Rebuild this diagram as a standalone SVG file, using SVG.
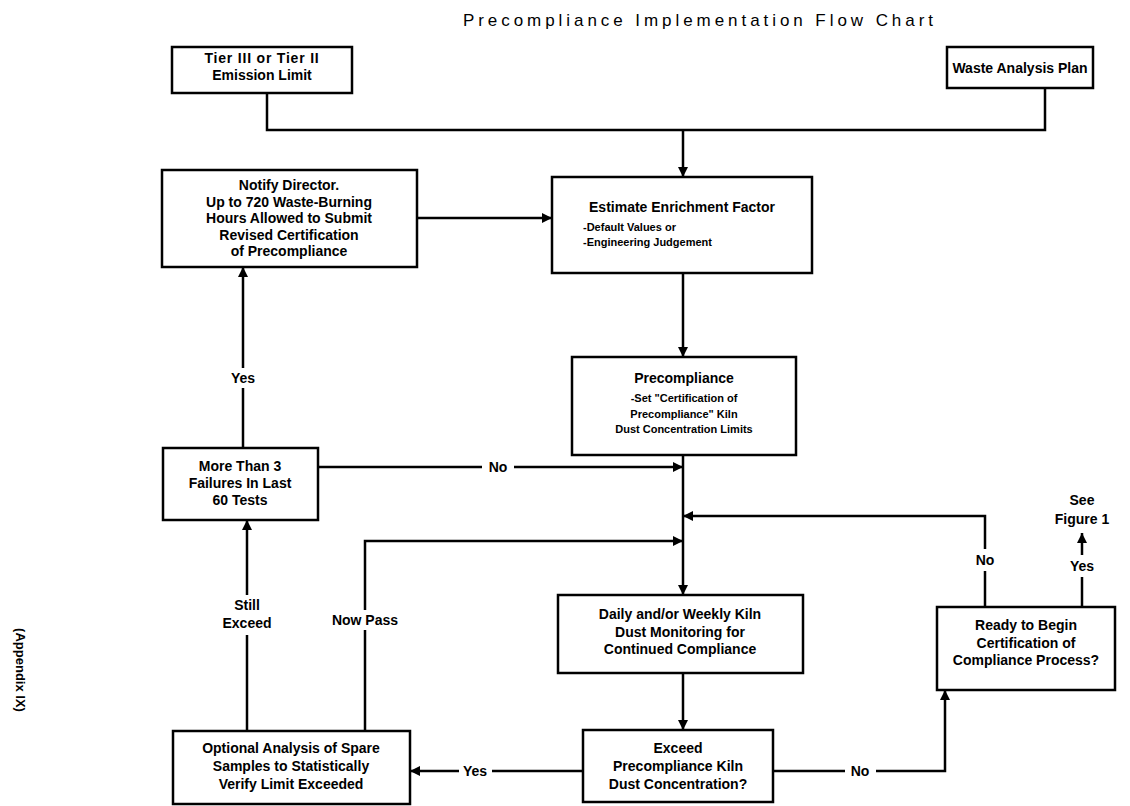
<svg xmlns="http://www.w3.org/2000/svg" width="1130" height="806" viewBox="0 0 1130 806">
<defs>
<marker id="ah" viewBox="0 0 10 10" refX="10" refY="5" markerWidth="4" markerHeight="4" orient="auto" markerUnits="strokeWidth">
<path d="M0,0 L10,5 L0,10 z" fill="#000"/>
</marker>
<style>
.box{fill:#fff;stroke:#000;stroke-width:2.5}
.t{font-family:"Liberation Sans",Arial,sans-serif;font-weight:bold;font-size:14px;fill:#000;text-anchor:middle;dominant-baseline:central}
.s{font-family:"Liberation Sans",Arial,sans-serif;font-weight:bold;font-size:11px;fill:#000;dominant-baseline:central}
.side{font-family:"Liberation Sans",Arial,sans-serif;font-weight:bold;font-size:13px;fill:#000;text-anchor:middle;dominant-baseline:central}
.c{fill:none;stroke:#000;stroke-width:2.5}
.a{fill:none;stroke:#000;stroke-width:2.5;marker-end:url(#ah)}
.title{font-family:"Liberation Sans",Arial,sans-serif;font-size:17px;fill:#000;text-anchor:middle;dominant-baseline:central}
</style>
</defs>
<rect width="1130" height="806" fill="#fff"/>
<text class="title" x="698" y="20" textLength="470" lengthAdjust="spacing">Precompliance Implementation Flow Chart</text>
<text class="side" x="20" y="670" transform="rotate(90 20 670)">(Appendix IX)</text>

<g id="connectors">
<path class="c" d="M267,93 V130 H1045 V88"/>
<path class="a" d="M683,130 V177"/>
<path class="a" d="M417,218 H552"/>
<path class="a" d="M683,273 V357"/>
<path class="a" d="M683,455 V595"/>
<path class="c" d="M243,448 V388"/>
<path class="a" d="M243,368 V267"/>
<text class="t" x="243" y="378">Yes</text>
<path class="c" d="M318,467 H482"/>
<path class="a" d="M514,467 H683"/>
<text class="t" x="498" y="467">No</text>
<path class="c" d="M985,607 V571"/>
<path class="a" d="M985,549 V516 H683"/>
<text class="t" x="985" y="560">No</text>
<path class="c" d="M1082,607 V577"/>
<path class="a" d="M1082,555 V533"/>
<text class="t" x="1082" y="566">Yes</text>
<text class="t" x="1082" y="500">See</text>
<text class="t" x="1082" y="519">Figure 1</text>
<path class="a" d="M683,673 V730"/>
<path class="c" d="M583,771 H492"/>
<path class="a" d="M459,771 H410"/>
<text class="t" x="475" y="771">Yes</text>
<path class="c" d="M773,771 H845"/>
<path class="a" d="M876,771 H945 V690"/>
<text class="t" x="860" y="771">No</text>
<path class="c" d="M247,731 V635"/>
<path class="a" d="M247,595 V520"/>
<text class="t" x="247" y="605">Still</text>
<text class="t" x="247" y="623">Exceed</text>
<path class="c" d="M365,731 V630"/>
<path class="a" d="M365,610 V541 H683"/>
<text class="t" x="365" y="620">Now Pass</text>
</g>

<g id="tier">
<rect class="box" x="172" y="47" width="180" height="46"/>
<text class="t" x="262" y="58" letter-spacing="0.8">Tier III or Tier II</text>
<text class="t" x="262" y="75">Emission Limit</text>
</g>
<g id="waste">
<rect class="box" x="947" y="47" width="146" height="41"/>
<text class="t" x="1020" y="68">Waste Analysis Plan</text>
</g>
<g id="notify">
<rect class="box" x="162" y="170" width="255" height="97"/>
<text class="t" x="289" y="185">Notify Director.</text>
<text class="t" x="289" y="202">Up to 720 Waste-Burning</text>
<text class="t" x="289" y="218">Hours Allowed to Submit</text>
<text class="t" x="289" y="235">Revised Certification</text>
<text class="t" x="289" y="251">of Precompliance</text>
</g>
<g id="estimate">
<rect class="box" x="552" y="177" width="260" height="96"/>
<text class="t" x="682" y="207">Estimate Enrichment Factor</text>
<text class="s" x="583" y="227">-Default Values or</text>
<text class="s" x="583" y="242">-Engineering Judgement</text>
</g>
<g id="precompliance">
<rect class="box" x="572" y="357" width="224" height="98"/>
<text class="t" x="684" y="378">Precompliance</text>
<text class="s" x="684" y="398" text-anchor="middle">-Set "Certification of</text>
<text class="s" x="684" y="414" text-anchor="middle">Precompliance" Kiln</text>
<text class="s" x="684" y="429" text-anchor="middle">Dust Concentration Limits</text>
</g>
<g id="morethan3">
<rect class="box" x="163" y="448" width="155" height="72"/>
<text class="t" x="240" y="466">More Than 3</text>
<text class="t" x="240" y="483">Failures In Last</text>
<text class="t" x="240" y="500">60 Tests</text>
</g>
<g id="daily">
<rect class="box" x="558" y="595" width="245" height="78"/>
<text class="t" x="680" y="614">Daily and/or Weekly Kiln</text>
<text class="t" x="680" y="632">Dust Monitoring for</text>
<text class="t" x="680" y="649">Continued Compliance</text>
</g>
<g id="ready">
<rect class="box" x="937" y="607" width="178" height="83"/>
<text class="t" x="1026" y="625">Ready to Begin</text>
<text class="t" x="1026" y="643">Certification of</text>
<text class="t" x="1026" y="660">Compliance Process?</text>
</g>
<g id="optional">
<rect class="box" x="173" y="731" width="237" height="73"/>
<text class="t" x="291" y="748">Optional Analysis of Spare</text>
<text class="t" x="291" y="766">Samples to Statistically</text>
<text class="t" x="291" y="784">Verify Limit Exceeded</text>
</g>
<g id="exceed">
<rect class="box" x="583" y="730" width="190" height="72"/>
<text class="t" x="678" y="748">Exceed</text>
<text class="t" x="678" y="766">Precompliance Kiln</text>
<text class="t" x="678" y="784">Dust Concentration?</text>
</g>
</svg>
